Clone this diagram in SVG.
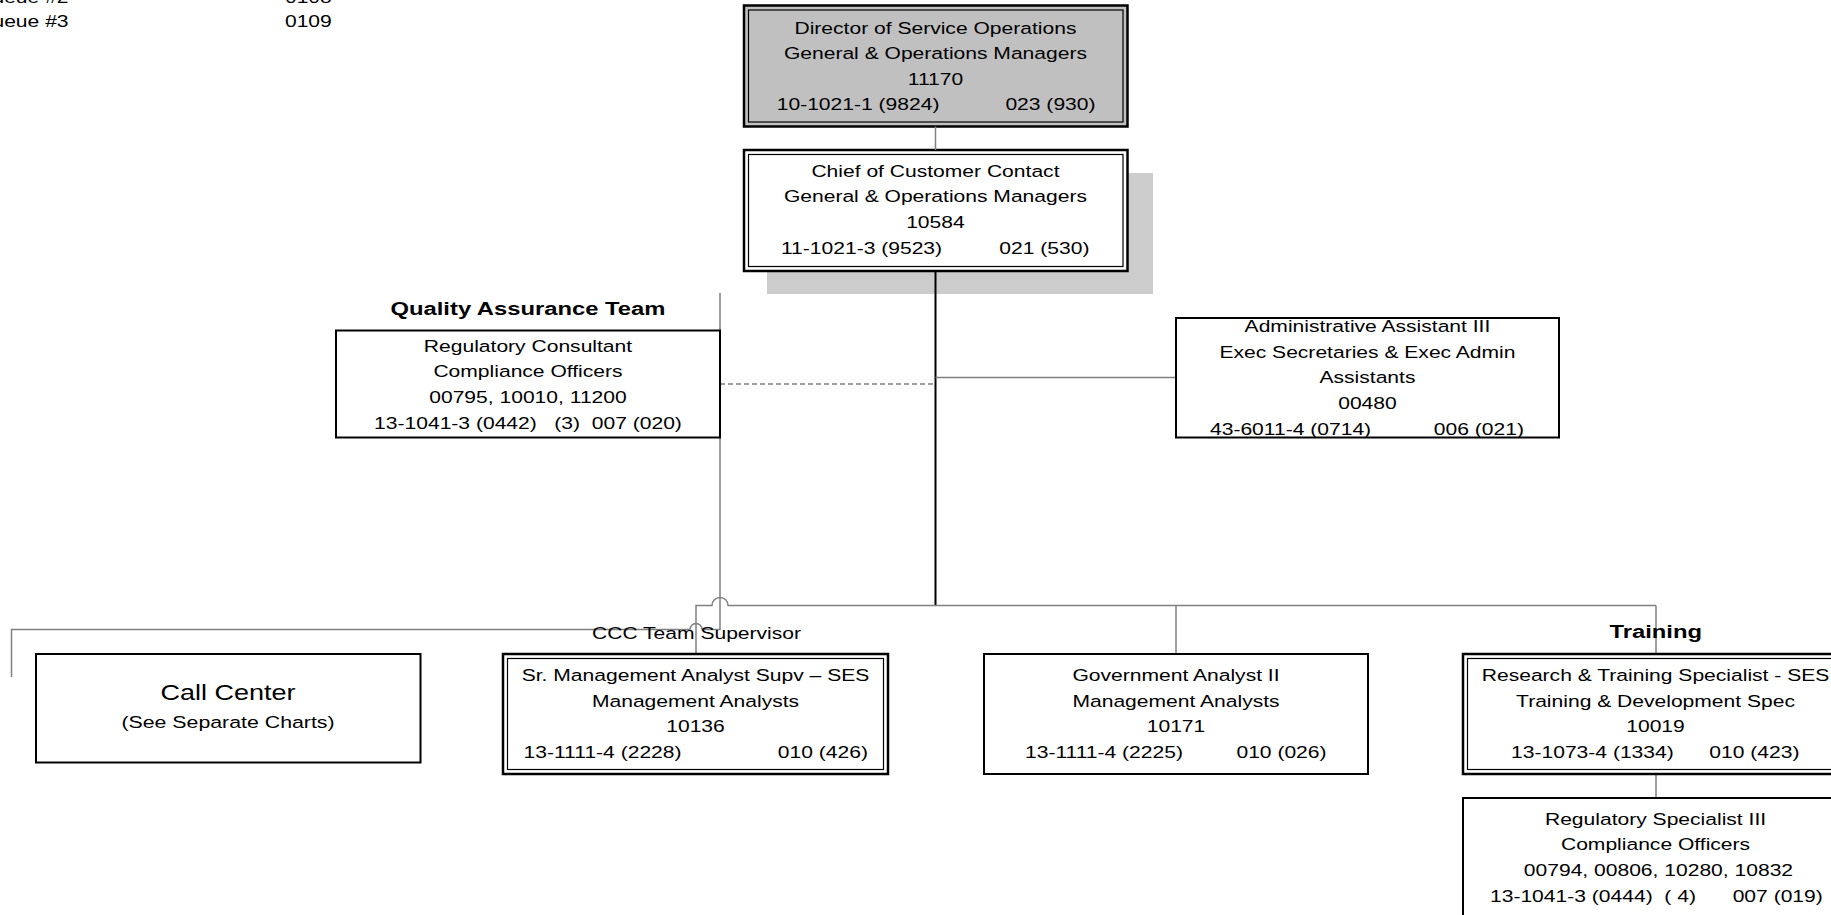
<svg xmlns="http://www.w3.org/2000/svg" width="1831" height="915" viewBox="0 0 1831 915">
  <style>
    .t { font-family: "Liberation Sans", Arial, sans-serif; font-size: 17px; fill: #000; text-anchor: middle; white-space: pre; }
    .st { text-anchor: start; }
    .en { text-anchor: end; }
    .hd { font-weight: bold; font-size: 19.2px; }
    .big { font-size: 21.8px; }
    .sub { font-size: 17.2px; }
    .box { fill: #fff; stroke: #000; stroke-width: 2; }
    .outer { fill: #fff; stroke: #000; stroke-width: 2.5; }
    .inner { fill: none; stroke: #000; stroke-width: 1.2; }
    .ln { fill: none; stroke: #808080; stroke-width: 1.5; }
    .main { fill: none; stroke: #000; stroke-width: 2; }
    .dash { stroke-dasharray: 5 3; }
  </style>

  <!-- legend fragment, top left -->
  <g id="legend">
    <g transform="scale(1.24 1)">
      <text class="t st" x="-19.3" y="3">Queue #2</text>
      <text class="t st" x="229.8" y="3">0108</text>
      <text class="t st" x="-19.3" y="27.5">Queue #3</text>
      <text class="t st" x="229.8" y="27.5">0109</text>
    </g>
  </g>

  <!-- Director -->
  <g id="director">
    <rect x="744" y="5.5" width="383.5" height="121" fill="#c0c0c0" stroke="#000" stroke-width="2.5"/>
    <rect x="748.5" y="10" width="374.5" height="112" class="inner"/>
    <g transform="scale(1.24 1)">
      <text class="t" x="754.4" y="33.7">Director of Service Operations</text>
      <text class="t" x="754.4" y="59.3">General &amp; Operations Managers</text>
      <text class="t" x="754.4" y="84.9">11170</text>
      <text class="t st" x="626.4" y="110.5">10-1021-1 (9824)</text>
      <text class="t en" x="883.5" y="110.5">023 (930)</text>
    </g>
  </g>

  <!-- Chief (with drop shadow) -->
  <g id="chief">
    <rect x="767" y="173" width="386" height="121" fill="#cccccc"/>
    <rect x="744" y="150" width="383.5" height="121" class="outer"/>
    <rect x="748.5" y="154.5" width="374.5" height="112" class="inner"/>
    <g transform="scale(1.24 1)">
      <text class="t" x="754.4" y="176.6">Chief of Customer Contact</text>
      <text class="t" x="754.4" y="202.3">General &amp; Operations Managers</text>
      <text class="t" x="754.4" y="228">10584</text>
      <text class="t st" x="629.8" y="253.7">11-1021-3 (9523)</text>
      <text class="t en" x="878.6" y="253.7">021 (530)</text>
    </g>
  </g>

  <!-- connectors -->
  <g id="connectors">
    <path class="ln" d="M935.5 126.5 V150"/>
    <path class="main" d="M935.5 271 V606"/>
    <path class="ln" d="M1656 605.5 H728 A8 8 0 0 0 712 605.5 H696 V654"/>
    <path class="ln" d="M1176 605.5 V654"/>
    <path class="ln" d="M1656 605.5 V654"/>
    <path class="ln" d="M1656 774 V798"/>
    <path class="ln" d="M935.5 377.5 H1176"/>
    <path class="ln dash" d="M720 384 H935"/>
    <path class="ln" d="M720 293 V629.5 H702 A6 6 0 0 0 690 629.5 H11.5 V677"/>
  </g>

  <!-- Quality Assurance -->
  <g id="qa">
    <g transform="scale(1.24 1)">
      <text class="t hd" x="425.8" y="315">Quality Assurance Team</text>
    </g>
    <rect x="336" y="330.5" width="384" height="107" class="box"/>
    <g transform="scale(1.24 1)">
      <text class="t" x="425.8" y="351.7">Regulatory Consultant</text>
      <text class="t" x="425.8" y="377.4">Compliance Officers</text>
      <text class="t" x="425.8" y="403.1">00795, 10010, 11200</text>
      <text class="t" x="425.8" y="428.8">13-1041-3 (0442)   (3)  007 (020)</text>
    </g>
  </g>

  <!-- Administrative Assistant -->
  <g id="admin">
    <rect x="1176" y="318" width="383" height="119.5" class="box"/>
    <g transform="scale(1.24 1)">
      <text class="t" x="1102.8" y="332">Administrative Assistant III</text>
      <text class="t" x="1102.8" y="357.6">Exec Secretaries &amp; Exec Admin</text>
      <text class="t" x="1102.8" y="383.3">Assistants</text>
      <text class="t" x="1102.8" y="409">00480</text>
      <text class="t st" x="975.8" y="434.6">43-6011-4 (0714)</text>
      <text class="t en" x="1229" y="434.6">006 (021)</text>
    </g>
  </g>

  <!-- Call Center -->
  <g id="call-center">
    <rect x="36" y="654" width="384.5" height="108.5" class="box"/>
    <g transform="scale(1.24 1)">
      <text class="t big" x="183.9" y="700.5">Call Center</text>
      <text class="t sub" x="183.9" y="728.5">(See Separate Charts)</text>
    </g>
  </g>

  <!-- CCC Team Supervisor -->
  <g id="ccc-supervisor">
    <g transform="scale(1.24 1)">
      <text class="t" x="561.7" y="639">CCC Team Supervisor</text>
    </g>
    <rect x="503" y="654" width="385" height="120" class="outer"/>
    <rect x="507.5" y="658.5" width="376" height="111" class="inner"/>
    <g transform="scale(1.24 1)">
      <text class="t" x="560.9" y="681">Sr. Management Analyst Supv – SES</text>
      <text class="t" x="560.9" y="706.7">Management Analysts</text>
      <text class="t" x="560.9" y="732.3">10136</text>
      <text class="t st" x="422.2" y="758">13-1111-4 (2228)</text>
      <text class="t en" x="700" y="758">010 (426)</text>
    </g>
  </g>

  <!-- Government Analyst -->
  <g id="gov-analyst">
    <rect x="984" y="654" width="384" height="120" class="box"/>
    <g transform="scale(1.24 1)">
      <text class="t" x="948.4" y="681">Government Analyst II</text>
      <text class="t" x="948.4" y="706.7">Management Analysts</text>
      <text class="t" x="948.4" y="732.3">10171</text>
      <text class="t st" x="826.6" y="758">13-1111-4 (2225)</text>
      <text class="t en" x="1069.8" y="758">010 (026)</text>
    </g>
  </g>

  <!-- Training -->
  <g id="training">
    <g transform="scale(1.24 1)">
      <text class="t hd" x="1335.3" y="638.5">Training</text>
    </g>
    <rect x="1463" y="654" width="385" height="120" class="outer"/>
    <rect x="1467.5" y="658.5" width="376" height="111" class="inner"/>
    <g transform="scale(1.24 1)">
      <text class="t" x="1335.1" y="681">Research &amp; Training Specialist - SES</text>
      <text class="t" x="1335.1" y="706.7">Training &amp; Development Spec</text>
      <text class="t" x="1335.1" y="732.3">10019</text>
      <text class="t st" x="1218.6" y="758">13-1073-4 (1334)</text>
      <text class="t en" x="1451.2" y="758">010 (423)</text>
    </g>
  </g>

  <!-- Regulatory Specialist -->
  <g id="reg-specialist">
    <rect x="1463" y="798" width="385" height="130" class="box"/>
    <g transform="scale(1.24 1)">
      <text class="t" x="1335.1" y="824.7">Regulatory Specialist III</text>
      <text class="t" x="1335.1" y="850.4">Compliance Officers</text>
      <text class="t" x="1335.1" y="876"> 00794, 00806, 10280, 10832</text>
      <text class="t st" x="1201.6" y="901.7">13-1041-3 (0444)  ( 4)</text>
      <text class="t en" x="1470" y="901.7">007 (019)</text>
    </g>
  </g>
</svg>
